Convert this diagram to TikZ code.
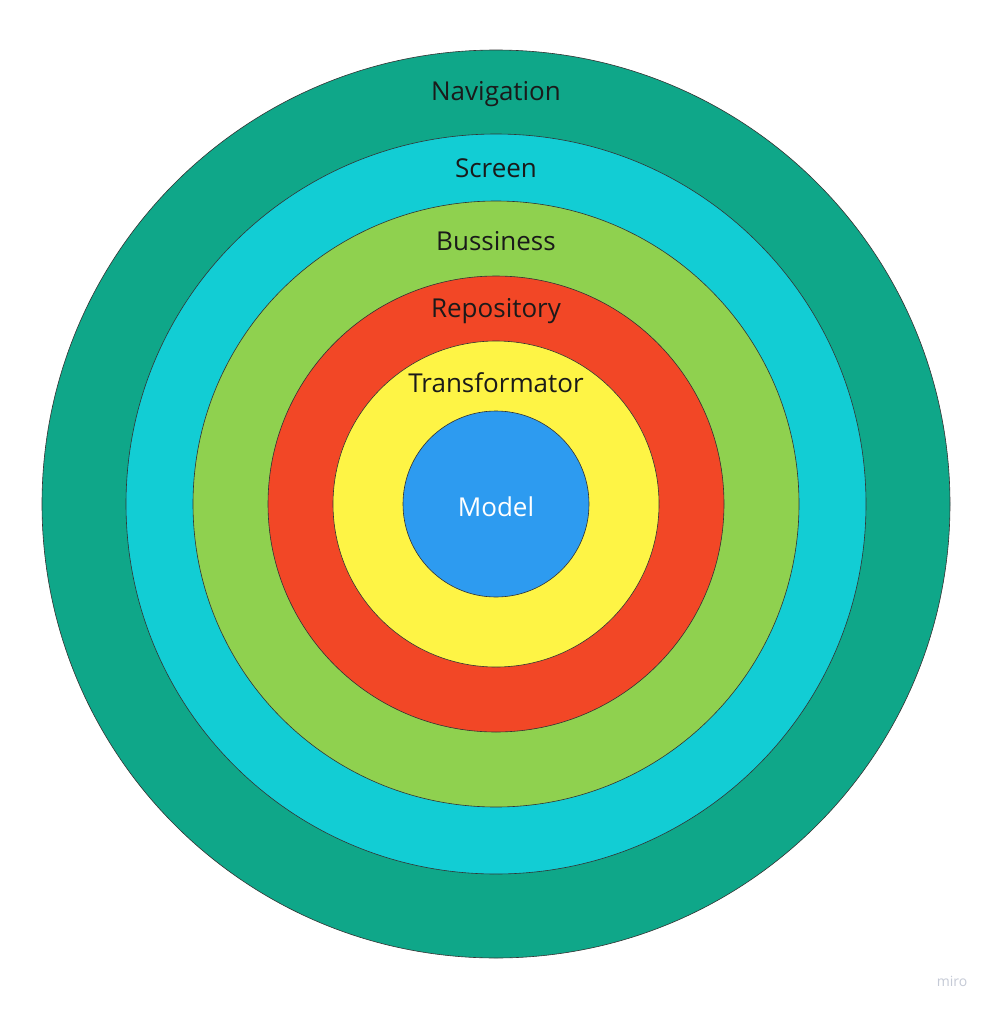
\documentclass[tikz,border=0pt]{standalone}
\usepackage{fontspec}
\setmainfont{Open Sans}
\definecolor{cnav}{HTML}{0FA789}
\definecolor{cscr}{HTML}{12CDD4}
\definecolor{cbus}{HTML}{8FD14F}
\definecolor{crep}{HTML}{F24726}
\definecolor{ctra}{HTML}{FEF445}
\definecolor{cmod}{HTML}{2D9BF0}
\definecolor{ctxt}{HTML}{1A1A1A}
\definecolor{cmiro}{HTML}{C5CAD6}
\begin{document}
\begin{tikzpicture}[x=1pt,y=-1pt,
  ring/.style={draw=black!80,line width=0.6pt},
  lbl/.style={font=\fontsize{26}{30}\selectfont,text=ctxt}]
\useasboundingbox (0,0) rectangle (990,1009);
\fill[white] (0,0) rectangle (990,1009);
\coordinate (c) at (496,504);
\draw[ring,fill=cnav] (c) circle (454);
\draw[ring,fill=cscr] (c) circle (370);
\draw[ring,fill=cbus] (c) circle (303);
\draw[ring,fill=crep] (c) circle (228);
\draw[ring,fill=ctra] (c) circle (163);
\draw[ring,fill=cmod] (c) circle (93);
\node[lbl] (n1) at (496,94) {Navigation};
\node[lbl] (n2) at (496,168) {Screen};
\node[lbl] (n3) at (496,241) {Bussiness};
\node[lbl] (n4) at (496,311) {Repository};
\node[lbl] (n5) at (496,383) {Transformator};
\node[lbl,text=white] (n6) at (496,507) {Model};
\node[font=\fontsize{14}{16}\selectfont,text=cmiro] (m) at (952,981) {miro};
\end{tikzpicture}
\end{document}
